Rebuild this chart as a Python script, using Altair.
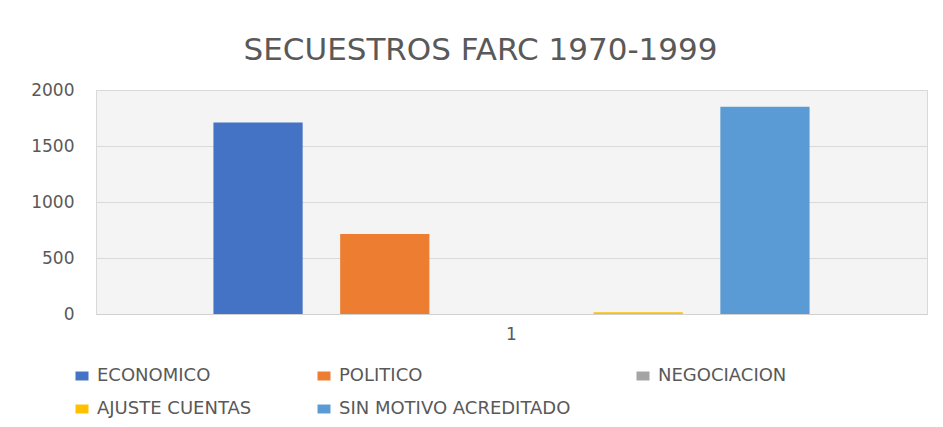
import altair as alt
import pandas as pd

# Data
categories = ["ECONOMICO", "POLITICO", "NEGOCIACION", "AJUSTE CUENTAS", "SIN MOTIVO ACREDITADO"]
values = [1710, 715, 0, 15, 1850]
colors = ["#4472C4", "#ED7D31", "#A5A5A5", "#FFC000", "#5B9BD5"]
group_labels = ["1", "1", "1", "1", "1"]
y_ticks = [0, 500, 1000, 1500, 2000]

df = pd.DataFrame({"grupo": group_labels, "motivo": categories, "secuestros": values})

FONT = "DejaVu Sans"
TXT = "#595959"
GRID = "#d9d9d9"

chart = alt.Chart(df).mark_bar(strokeWidth=0).encode(
    x=alt.X(
        "grupo:N",
        title=None,
        scale=alt.Scale(paddingInner=0, paddingOuter=0.197),
        axis=alt.Axis(labelAngle=0, ticks=False, labelPadding=12, domainColor="#d0d0d0",
                      labelFontSize=17, labelColor=TXT, labelFont=FONT, grid=False),
    ),
    xOffset=alt.XOffset("motivo:N", sort=categories,
                        scale=alt.Scale(paddingInner=0.296, paddingOuter=0)),
    y=alt.Y(
        "secuestros:Q",
        title=None,
        scale=alt.Scale(domain=[0, 2000]),
        axis=alt.Axis(values=y_ticks, format="d", ticks=False, domain=False, labelPadding=22,
                      gridColor=GRID, labelFontSize=17, labelColor=TXT, labelFont=FONT),
    ),
    color=alt.Color(
        "motivo:N",
        sort=categories,
        scale=alt.Scale(domain=categories, range=colors),
        legend=alt.Legend(
            title=None, orient="none", legendX=-23, legendY=277, direction="horizontal",
            columns=3, gridAlign="each", columnPadding=63, rowPadding=15,
            symbolType="M-1,-0.69L1,-0.69L1,0.69L-1,0.69Z", symbolSize=169,
            symbolStrokeWidth=0, symbolOpacity=1,
            labelFontSize=18, labelColor=TXT, labelFont=FONT, labelOffset=6, labelLimit=400,
        ),
    ),
).properties(
    width=831,
    height=224,
    title=alt.TitleParams("SECUESTROS FARC 1970-1999", font=FONT, fontSize=31, fontWeight="normal",
                          color=TXT, anchor="middle", frame="group", dx=-31, offset=14),
    autosize=alt.AutoSizeParams(type="none"),
    padding={"left": 88, "top": 82, "right": 8, "bottom": 105},
).configure(
    background="white"
).configure_view(
    fill="#f4f4f4", stroke=GRID, strokeWidth=1
)

chart.save("out.html", embed_options={"renderer": "svg", "actions": False})
